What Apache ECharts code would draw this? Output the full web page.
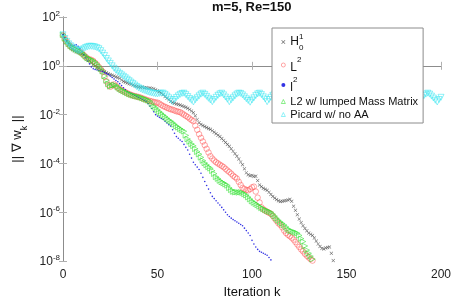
<!DOCTYPE html>
<html><head><meta charset="utf-8">
<script src="https://cdn.jsdelivr.net/npm/echarts@6/dist/echarts.min.js"></script>
<style>html,body{margin:0;padding:0;background:#fff}#c{width:455px;height:304px}</style>
</head><body><div id="c"></div>
<script>
// x axis ticks (iteration k) and y ticks (decade exponents of ||grad w_k||)
const xTicks = [0, 50, 100, 150, 200];
const yTickExps = [-8, -6, -4, -2, 0, 2];
const seriesNames = ['H01', 'L2', 'l2', 'L2 w/ lumped Mass Matrix', 'Picard w/ no AA'];

// values are log10(||grad w_k||), one per iteration k = 0,1,2,...
const h01Exp = [1.27,1.12,1.0,0.86,0.75,0.68,0.62,0.58,0.55,0.52,
 0.49,0.46,0.40,0.33,0.22,0.12,0.05,0.0,-0.06,-0.10,
 -0.15,-0.2,-0.24,-0.28,-0.32,-0.36,-0.39,-0.42,-0.45,-0.48,
 -0.51,-0.58,-0.64,-0.67,-0.70,-0.73,-0.75,-0.79,-0.82,-0.85,
 -0.87,-0.88,-0.87,-0.90,-0.89,-0.92,-0.91,-0.93,-0.94,-0.98,
 -1.02,-1.06,-1.12,-1.18,-1.26,-1.33,-1.39,-1.45,-1.50,-1.53,
 -1.56,-1.58,-1.61,-1.64,-1.67,-1.70,-1.74,-1.79,-1.85,-1.92,
 -2.05,-2.2,-2.33,-2.40,-2.45,-2.49,-2.53,-2.57,-2.60,-2.66,
 -2.72,-2.78,-2.84,-2.90,-2.98,-3.06,-3.14,-3.22,-3.30,-3.40,
 -3.50,-3.60,-3.70,-3.82,-3.94,-4.05,-4.22,-4.38,-4.46,-4.50,
 -4.49,-4.53,-4.52,-4.70,-4.88,-4.95,-5.02,-5.06,-5.10,-5.18,
 -5.27,-5.35,-5.42,-5.48,-5.53,-5.56,-5.55,-5.53,-5.52,-5.50,
 -5.47,-5.55,-5.75,-5.92,-6.10,-6.28,-6.42,-6.55,-6.66,-6.76,
 -6.85,-6.90,-6.95,-7.05,-7.18,-7.30,-7.40,-7.48,-7.50,-7.46,
 -7.44,-7.42,-7.68,-7.98];

const L2Exp = [1.25,1.1,0.98,0.88,0.8,0.74,0.7,0.66,0.62,0.58,
 0.52,0.44,0.36,0.3,0.27,0.24,0.2,0.12,0.05,-0.05,
 -0.14,-0.24,-0.45,-0.64,-0.78,-0.86,-0.8,-0.76,-0.82,-0.9,
 -0.96,-1.0,-1.04,-1.08,-1.12,-1.16,-1.19,-1.22,-1.24,-1.26,
 -1.28,-1.30,-1.33,-1.36,-1.39,-1.42,-1.44,-1.46,-1.48,-1.50,
 -1.51,-1.55,-1.60,-1.65,-1.68,-1.72,-1.75,-1.78,-1.80,-1.83,
 -1.86,-1.88,-1.90,-1.95,-2.0,-2.05,-2.1,-2.16,-2.22,-2.27,
 -2.45,-2.62,-2.80,-2.95,-3.10,-3.25,-3.40,-3.55,-3.70,-3.80,
 -3.88,-3.95,-4.0,-4.05,-4.10,-4.15,-4.22,-4.29,-4.35,-4.42,
 -4.50,-4.56,-4.62,-4.75,-4.88,-5.0,-5.05,-5.08,-5.10,-5.05,
 -4.98,-4.95,-5.15,-5.40,-5.60,-5.80,-5.88,-5.93,-5.98,-6.02,
 -6.06,-6.15,-6.25,-6.35,-6.45,-6.52,-6.62,-6.75,-6.85,-6.92,
 -6.98,-7.04,-7.12,-7.22,-7.32,-7.42,-7.52,-7.60,-7.70,-7.78,
 -7.85,-7.92,-7.98];

const l2Exp = [1.27,1.15,1.02,0.93,0.86,0.82,0.84,0.86,0.8,0.7,
 0.58,0.45,0.32,0.2,0.08,-0.05,-0.12,-0.15,-0.17,-0.19,
 -0.21,-0.24,-0.28,-0.32,-0.36,-0.42,-0.48,-0.54,-0.6,-0.65,
 -0.73,-0.81,-0.9,-0.98,-1.05,-1.09,-1.13,-1.17,-1.21,-1.25,
 -1.29,-1.33,-1.37,-1.41,-1.45,-1.55,-1.65,-1.75,-1.88,-2.0,
 -2.06,-2.11,-2.16,-2.2,-2.27,-2.34,-2.41,-2.47,-2.62,-2.76,
 -2.9,-2.97,-3.04,-3.1,-3.22,-3.34,-3.45,-3.62,-3.78,-3.95,
 -4.05,-4.15,-4.25,-4.4,-4.57,-4.74,-4.9,-5.05,-5.2,-5.35,
 -5.44,-5.53,-5.62,-5.7,-5.8,-5.9,-6.0,-6.1,-6.17,-6.24,
 -6.3,-6.35,-6.4,-6.45,-6.5,-6.55,-6.65,-6.75,-6.85,-6.95,
 -7.15,-7.3,-7.42,-7.52,-7.6,-7.64,-7.68,-7.72,-7.76,-7.85,
 -7.95];

const lumpedExp = [1.27,1.12,1.0,0.9,0.82,0.76,0.71,0.67,0.63,0.59,
 0.54,0.47,0.39,0.32,0.28,0.25,0.22,0.15,0.07,-0.02,
 -0.12,-0.22,-0.42,-0.6,-0.74,-0.84,-0.82,-0.78,-0.80,-0.88,
 -0.94,-0.99,-1.03,-1.07,-1.11,-1.15,-1.18,-1.21,-1.23,-1.25,
 -1.27,-1.29,-1.32,-1.35,-1.38,-1.41,-1.45,-1.55,-1.65,-1.72,
 -1.8,-1.88,-1.95,-2.02,-2.08,-2.15,-2.22,-2.27,-2.33,-2.40,
 -2.47,-2.52,-2.58,-2.63,-2.68,-2.85,-3.0,-3.1,-3.2,-3.28,
 -3.40,-3.52,-3.62,-3.75,-3.88,-3.98,-4.06,-4.14,-4.20,-4.3,
 -4.42,-4.55,-4.62,-4.70,-4.76,-4.80,-4.85,-4.90,-5.0,-5.08,
 -5.15,-5.18,-5.17,-5.19,-5.18,-5.20,-5.25,-5.30,-5.38,-5.46,
 -5.54,-5.60,-5.65,-5.70,-5.76,-5.82,-5.86,-5.90,-5.94,-5.97,
 -6.0,-6.08,-6.16,-6.25,-6.33,-6.40,-6.46,-6.52,-6.60,-6.68,
 -6.75,-6.78,-6.80,-6.83,-6.86,-6.95,-7.08,-7.2,-7.38,-7.55,
 -7.68,-7.80,-7.92];

const picardExp = [1.27,1.12,1.0,0.9,0.82,0.76,0.7,0.66,0.62,0.62,
 0.66,0.7,0.75,0.78,0.8,0.8,0.79,0.77,0.74,0.7,
 0.62,0.52,0.42,0.3,0.2,0.1,0.0,-0.1,-0.18,-0.25,
 -0.31,-0.37,-0.43,-0.49,-0.55,-0.61,-0.67,-0.73,-0.79,-0.85,
 -0.9,-0.94,-0.98,-1.01,-1.04,-1.07,-1.09,-1.11,-1.13,-1.14,
 -1.15,-1.13,-1.12,-1.12,-1.17,-1.24,-1.31,-1.39,-1.46,-1.38,
 -1.30,-1.23,-1.17,-1.13,-1.12,-1.18,-1.26,-1.34,-1.41,-1.48,
 -1.39,-1.31,-1.23,-1.16,-1.12,-1.17,-1.25,-1.33,-1.40,-1.47,
 -1.38,-1.29,-1.21,-1.15,-1.12,-1.19,-1.28,-1.37,-1.47,-1.39,
 -1.31,-1.23,-1.16,-1.12,-1.13,-1.19,-1.27,-1.35,-1.42,-1.49,
 -1.40,-1.31,-1.22,-1.15,-1.12,-1.18,-1.27,-1.36,-1.47,-1.38,
 -1.29,-1.21,-1.15,-1.12,-1.16,-1.23,-1.31,-1.39,-1.48,-1.39,
 -1.30,-1.22,-1.15,-1.12,-1.17,-1.24,-1.32,-1.40,-1.48,-1.39,
 -1.31,-1.22,-1.16,-1.12,-1.16,-1.24,-1.33,-1.41,-1.49,-1.40,
 -1.30,-1.21,-1.15,-1.12,-1.18,-1.25,-1.33,-1.40,-1.47,-1.38,
 -1.29,-1.22,-1.15,-1.12,-1.17,-1.24,-1.32,-1.41,-1.49,-1.39,
 -1.31,-1.22,-1.16,-1.12,-1.16,-1.23,-1.31,-1.40,-1.48,-1.40,
 -1.30,-1.21,-1.15,-1.12,-1.17,-1.25,-1.33,-1.41,-1.48,-1.39,
 -1.30,-1.22,-1.15,-1.12,-1.17,-1.24,-1.32,-1.40,-1.49,-1.39,
 -1.31,-1.22,-1.16,-1.12,-1.16,-1.24,-1.32,-1.41,-1.48,-1.38,
 -1.29];

const FONT = 'Liberation Sans, Arial, Helvetica, sans-serif';
const toPts = arr => arr.map((v, i) => [i, v]);
const xSym = 'path://M0,1L1,0L5,4L9,0L10,1L6,5L10,9L9,10L5,6L1,10L0,9L4,5Z';
const axisGray = '#8c8c8c';
const styles = [
  {color: '#3a3a3a'},
  {color: 'rgba(0,0,0,0)', borderColor: '#ff4646', borderWidth: 0.6},
  {color: '#0000dd'},
  {color: 'rgba(0,0,0,0)', borderColor: '#2ee02e', borderWidth: 0.7},
  {color: 'rgba(0,0,0,0)', borderColor: '#3ae6f0', borderWidth: 0.7}
];

const chart = echarts.init(document.getElementById('c'), null, {renderer: 'canvas'});
const baseAxis = {
  axisLine: {show: true, lineStyle: {color: axisGray, width: 1}},
  axisTick: {show: true, inside: true, length: 4, lineStyle: {color: '#b0b0b0'}},
  splitLine: {show: false}
};
chart.setOption({
  animation: false,
  backgroundColor: '#fff',
  textStyle: {fontFamily: FONT},
  title: {
    text: 'm=5, Re=150', left: 212, top: 1, padding: 0,
    textStyle: {fontSize: 13, fontWeight: 'bold', color: '#111', fontFamily: FONT}
  },
  grid: {left: 63, right: 14, top: 17, bottom: 41, containLabel: false},
  legend: {
    orient: 'vertical', left: 272, top: 28,
    padding: [2, 5, 3, 9], itemGap: 2, itemWidth: 4, itemHeight: 4,
    backgroundColor: '#fff', borderColor: '#8c8c8c', borderWidth: 1, borderRadius: 0,
    data: seriesNames.map((n, i) => ({name: n, itemStyle: styles[i]})),
    formatter: function (n) {
      if (n === 'H01') return '{h|H}{hs|1}{hb|0}';
      if (n === 'L2') return '{t|L}{ts|2}';
      if (n === 'l2') return '{t|l}{ts|2}';
      return '{p|' + n + '}';
    },
    textStyle: {
      fontFamily: FONT, fontSize: 11, color: '#111',
      rich: {
        h: {fontSize: 12, lineHeight: 24, verticalAlign: 'middle', fontFamily: FONT, color: '#111'},
        hs: {fontSize: 8, lineHeight: 24, width: 0, verticalAlign: 'top', fontFamily: FONT, color: '#111', padding: [3, 0, 0, 0]},
        hb: {fontSize: 8, lineHeight: 24, verticalAlign: 'bottom', fontFamily: FONT, color: '#111', padding: [0, 0, 2, 0]},
        t: {fontSize: 12, lineHeight: 18, verticalAlign: 'bottom', fontFamily: FONT, color: '#111'},
        ts: {fontSize: 8, lineHeight: 18, verticalAlign: 'top', fontFamily: FONT, color: '#111'},
        p: {fontSize: 11, lineHeight: 12, fontFamily: FONT, color: '#111'}
      }
    }
  },
  xAxis: [
    Object.assign({}, baseAxis, {
      type: 'value', min: xTicks[0], max: xTicks[xTicks.length - 1], interval: 50,
      axisLabel: {fontSize: 12, color: '#222', margin: 8, fontFamily: FONT},
      name: 'Iteration k', nameLocation: 'middle', nameGap: 22,
      nameTextStyle: {fontSize: 13, color: '#111', fontFamily: FONT}
    }),
    Object.assign({}, baseAxis, {
      type: 'value', position: 'top', min: xTicks[0], max: xTicks[xTicks.length - 1], interval: 50,
      axisLabel: {show: false}
    })
  ],
  yAxis: [
    Object.assign({}, baseAxis, {
      type: 'value', min: yTickExps[0], max: yTickExps[yTickExps.length - 1], interval: 2,
      axisLabel: {
        margin: 3, fontFamily: FONT,
        formatter: v => '{b|10}{s|' + v + '}',
        rich: {
          b: {fontSize: 12, lineHeight: 14, verticalAlign: 'bottom', color: '#222', fontFamily: FONT},
          s: {fontSize: 8, lineHeight: 14, verticalAlign: 'top', color: '#222', fontFamily: FONT}
        }
      },
      name: '{n||| \u2207 w}{k|k}{n| ||}', nameLocation: 'middle', nameGap: 30,
      nameTextStyle: {
        fontSize: 13, color: '#111', fontFamily: FONT,
        rich: {
          n: {fontSize: 13, lineHeight: 18, verticalAlign: 'top', color: '#111', fontFamily: FONT},
          k: {fontSize: 9, lineHeight: 18, verticalAlign: 'bottom', color: '#111', fontFamily: FONT}
        }
      }
    }),
    Object.assign({}, baseAxis, {
      type: 'value', position: 'right', min: yTickExps[0], max: yTickExps[yTickExps.length - 1], interval: 2,
      axisLabel: {show: false}
    })
  ],
  series: [
    {name: seriesNames[0], type: 'scatter', data: toPts(h01Exp), symbol: xSym, symbolSize: 3.5, itemStyle: styles[0], clip: false},
    {name: seriesNames[1], type: 'scatter', data: toPts(L2Exp), symbol: 'circle', symbolSize: 5.5, itemStyle: styles[1], clip: false},
    {name: seriesNames[2], type: 'scatter', data: toPts(l2Exp), symbol: 'circle', symbolSize: 1.6, itemStyle: styles[2], clip: false},
    {name: seriesNames[3], type: 'scatter', data: toPts(lumpedExp), symbol: 'triangle', symbolRotate: -90, symbolSize: 5.5, itemStyle: styles[3], clip: false},
    {name: seriesNames[4], type: 'scatter', data: toPts(picardExp), symbol: 'triangle', symbolRotate: 180, symbolSize: 6, itemStyle: styles[4], clip: false}
  ]
});
</script>
</body></html>
